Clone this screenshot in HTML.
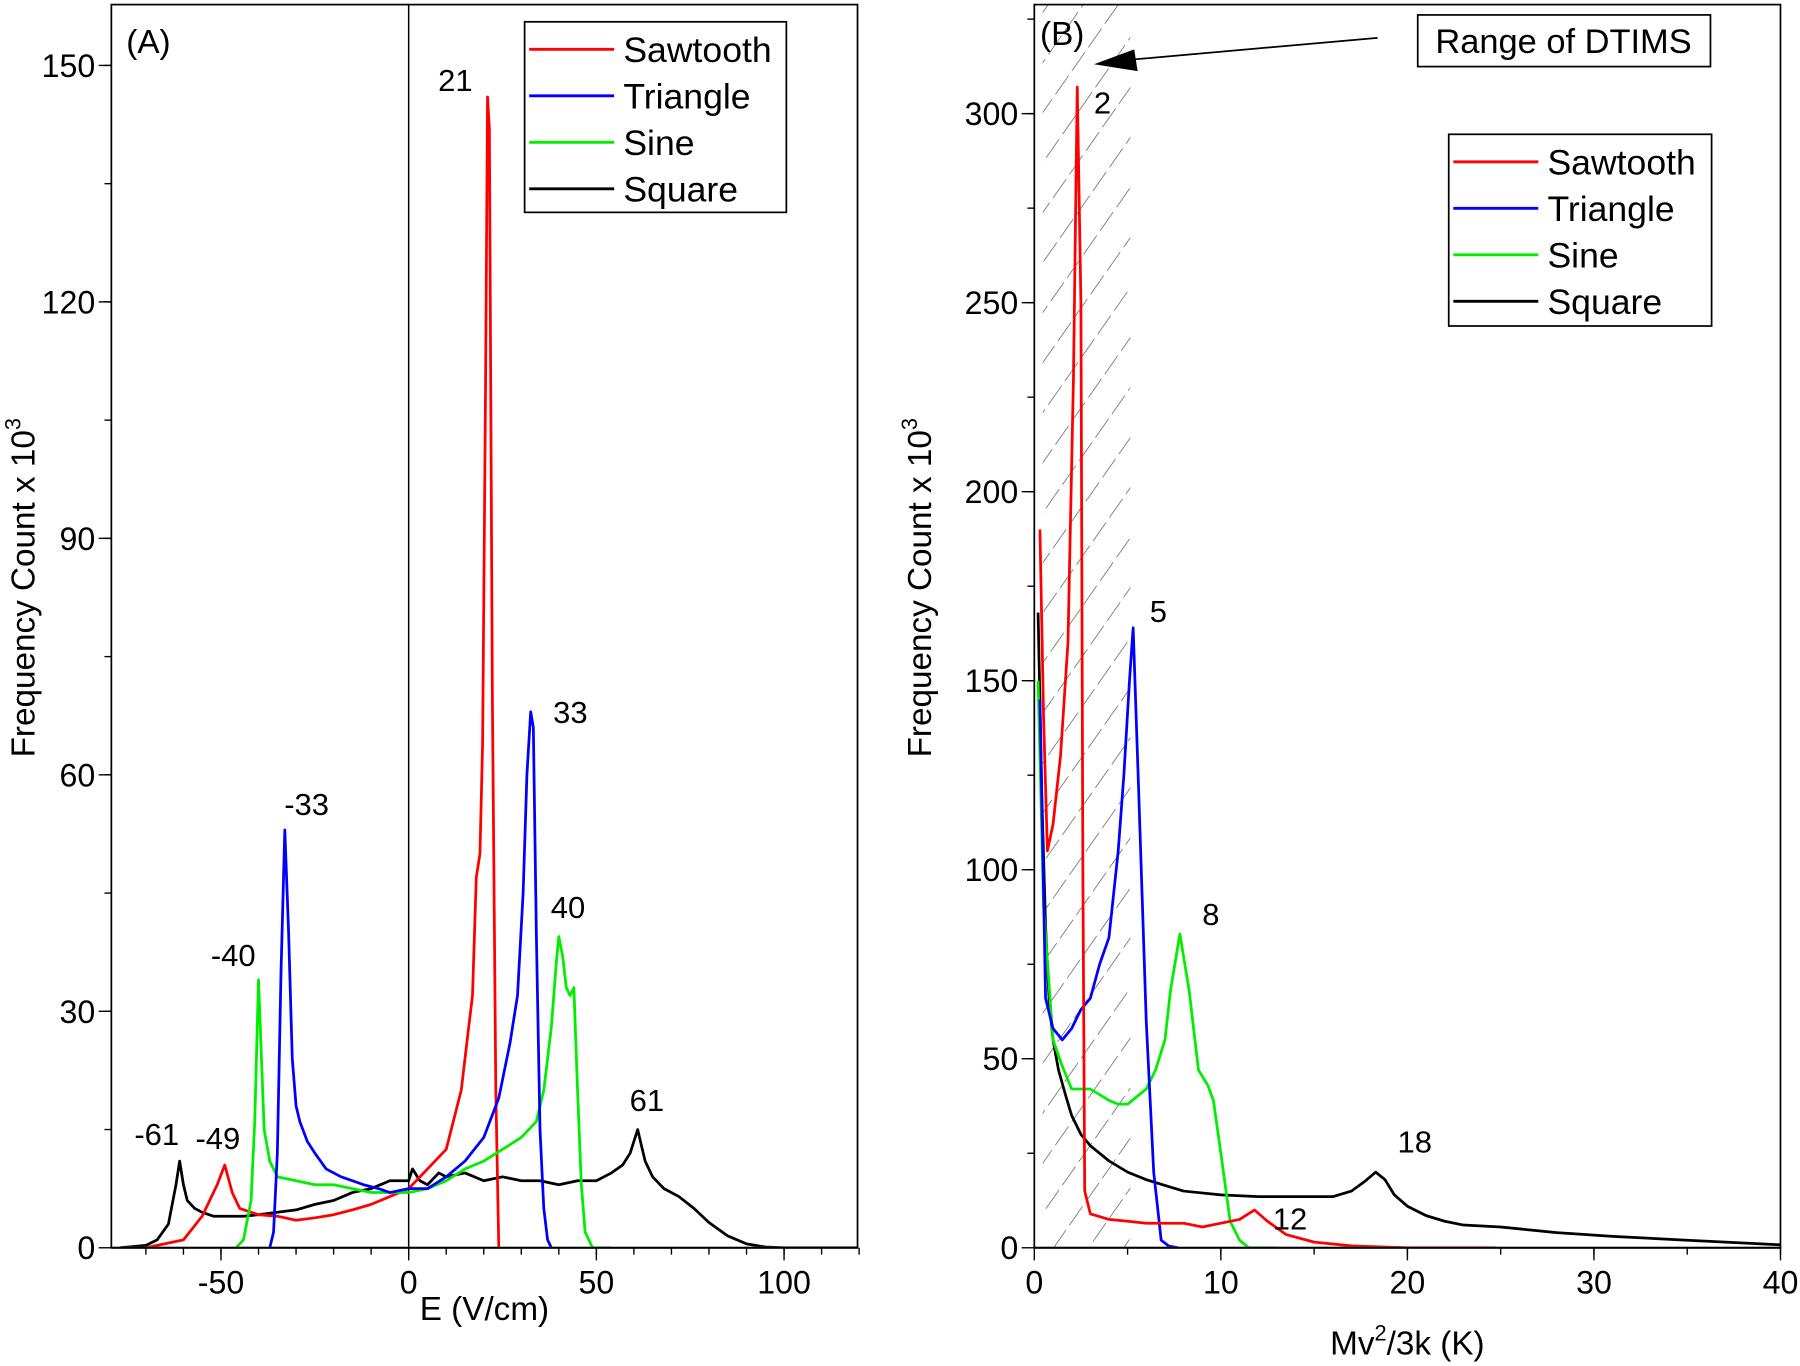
<!DOCTYPE html>
<html><head><meta charset="utf-8"><style>
html,body{margin:0;padding:0;background:#fff;}
svg{display:block;font-family:"Liberation Sans",Arial,sans-serif;}
</style></head><body>
<svg id="fig" width="1800" height="1366" viewBox="0 0 1568 1190" preserveAspectRatio="none">
<defs>
<pattern id="hatch" patternUnits="userSpaceOnUse" width="25" height="25" patternTransform="rotate(35)">
<line x1="0" y1="0" x2="0" y2="25" stroke="#444" stroke-width="1.1" stroke-dasharray="15,5"/>
</pattern>
<clipPath id="clipA"><rect x="97" y="4" width="650" height="1083"/></clipPath>
<clipPath id="clipB"><rect x="901" y="4" width="650" height="1083"/></clipPath>
</defs>
<g id="panelA"></g>
<g id="panelB"></g>
</svg>
<script>
// Panel A data
const aSawX=[-70,-60,-55,-51,-49,-47,-45,-40,-35,-30,-25,-20,-15,-10,-5,0,5,10,14,16,17,18,19,19.7,20.5,21,21.5,22.3,23.2,24];
const aSawY=[0,1,4,8,10.5,7,5,4.2,4,3.5,3.8,4.2,4.8,5.5,6.5,7.5,10,12.5,20,28,32,47,50,64,110,146,142,70,20,0];
const aTriX=[-37,-36,-35,-34,-33,-32,-31,-30,-29,-27,-25,-22,-18,-15,-12,-8,-5,0,5,10,15,20,24,27,29,30.5,31.5,32.5,33.2,34,35,36,37,38];
const aTriY=[0,2,12,35,53,40,24,18,16,13.5,12,10,9,8.5,8,7.5,7,7.5,7.5,9,11,14,19,26,32,45,60,68,66,40,15,5,1,0];
const aSinX=[-46,-44,-42,-41,-40,-39.3,-38.5,-37,-35,-30,-25,-20,-15,-10,-5,0,5,10,15,20,25,30,34,36,38,39.3,40,41,42,43,44,45,46,47,49,54];
const aSinY=[0,1,6,16,34,25,15,11,9,8.5,8,8,7.5,7,7,7,7.5,8.5,10,11,12.5,14,16,20,28,36,39.5,37,33,32,33,20,8,2,0,0];
const aSqX=[-77,-70,-67,-64,-62,-61,-60,-59,-57,-55,-52,-48,-44,-40,-35,-30,-25,-20,-15,-10,-5,0,1,3,5,8,10,15,20,25,30,35,40,45,50,54,57,59,61,62,63,65,68,72,76,80,85,90,95,100,120];
const aSqY=[0,0.3,1,3,8,11,8,6,5,4.5,4,4,4,4.2,4.5,4.8,5.5,6,7,7.5,8.5,8.5,10,8.5,8,9.5,9,9.5,8.5,9,8.5,8.5,8,8.5,8.5,9.5,10.5,12,15,13,11,9,7.5,6.5,5,3.2,1.5,0.5,0.1,0,0];
const aXTicks=[-50,0,50,100];
const aYTicks=[0,30,60,90,120,150];
const aPeakLabels=["21","33","-33","40","-40","-49","-61","61"];
const aPeakX=[21,33,-33,40,-40,-49,-61,61];
const aPeakY=[146,68,53,39.5,34,10.5,11,15];
// Panel B data
const bSawX=[0.3,0.5,0.7,1,1.4,1.8,2.1,2.3,2.5,2.6,2.7,3,4,5,6,7,8,9,10,11,11.8,12.5,13.5,15,17,20,24.7];
const bSawY=[190,140,105,112,130,160,230,307,250,100,15,9,7.5,7,6.5,6.5,6.5,5.5,6.5,7.5,10,7,3.5,1.5,0.5,0,0];
const bTriX=[0.3,0.6,1,1.5,2,2.5,3,3.5,4,4.5,4.8,5.1,5.3,5.6,6,6.4,6.8,7.2,7.7];
const bTriY=[145,66,58,55,58,63,66,75,82,105,125,150,164,120,60,20,2,0.5,0];
const bSinX=[0.2,0.5,1,1.5,2,2.5,3,4,4.5,5,6,6.5,7,7.3,7.8,8.3,8.8,9.3,9.6,10,10.5,11,11.5,13];
const bSinY=[150,90,55,48,42,42,42,39,38,38,42,47,55,68,83,68,47,43,39,25,7,2,0,0];
const bSqX=[0.2,0.4,0.6,0.8,1,1.3,1.7,2,2.5,3,3.5,4,5,6,7,8,10,12,14,16,17,17.7,18.3,18.8,19.3,20,21,22,23,25,28,31,35,40];
const bSqY=[168,120,85,65,55,47,40,35,30,27,25,23,20,18,16.5,15,14,13.5,13.5,13.5,15,17.5,20,18,14,11,8.5,7,6,5.5,4,3,2,0.8];
const bXTicks=[0,10,20,30,40];
const bYTicks=[0,50,100,150,200,250,300];
const bPeakLabels=["2","5","8","12","18"];
const bPeakX=[2.3,5.3,7.8,11.8,18.3];
const bPeakY=[307,164,83,10,20];

const NS="http://www.w3.org/2000/svg";
function el(tag,attrs,parent){const e=document.createElementNS(NS,tag);for(const k in attrs)e.setAttribute(k,attrs[k]);parent.appendChild(e);return e;}
function mk(x0,x1,px0,px1){return v=>px0+(v-x0)/(x1-x0)*(px1-px0);}

const A=document.getElementById('panelA');
const B=document.getElementById('panelB');
const axA={xs:mk(0,100,356,683),ys:mk(0,150,1087,57)};
const axB={xs:mk(0,40,901,1551),ys:mk(0,300,1087,99)};

function drawSeries(g,ax,xs,ys,color,name,clip){
  const d=xs.map((x,i)=>(i?'L':'M')+ax.xs(x).toFixed(1)+','+ax.ys(ys[i]).toFixed(1)).join('');
  const p=el('path',{d:d,fill:'none',stroke:color,'stroke-width':2.4,'stroke-linejoin':'round','clip-path':clip},g);
  
  
}
function frame(g,l,r,t,b){
  const f=el('rect',{x:l,y:t,width:r-l,height:b-t,fill:'none',stroke:'#000','stroke-width':1.5},g);
  
  
}
function ticks(g,ax,xt,xminor,yt,yminor,l,b,pfx){
  xminor.forEach(v=>{el('line',{x1:ax.xs(v),x2:ax.xs(v),y1:b,y2:b+6,stroke:'#000','stroke-width':1.2},g);});
  xt.forEach(v=>{
    el('line',{x1:ax.xs(v),x2:ax.xs(v),y1:b,y2:b+11,stroke:'#000','stroke-width':1.2},g);
    const t=el('text',{x:ax.xs(v),y:b+40,'font-size':28,'text-anchor':'middle'},g);t.textContent=v;
    
    
  });
  yminor.forEach(v=>{el('line',{x1:l-6,x2:l,y1:ax.ys(v),y2:ax.ys(v),stroke:'#000','stroke-width':1.2},g);});
  yt.forEach(v=>{
    el('line',{x1:l-11,x2:l,y1:ax.ys(v),y2:ax.ys(v),stroke:'#000','stroke-width':1.2},g);
    const t=el('text',{x:l-14,y:ax.ys(v)+10,'font-size':28,'text-anchor':'end'},g);t.textContent=v;
    
    
  });
}
function legend(g,x,y,w,h,pfx){
  const r=el('rect',{x:x,y:y,width:w,height:h,fill:'#fff',stroke:'#000','stroke-width':1.5},g);
  
  
  const names=['Sawtooth','Triangle','Sine','Square'],cols=['#ff0000','#0000ff','#00ee00','#000'];
  names.forEach((n,i)=>{
    const yy=y+24+i*40.5;
    el('line',{x1:x+4,x2:x+78,y1:yy,y2:yy,stroke:cols[i],'stroke-width':2.5},g);
    const t=el('text',{x:x+86,y:yy+11,'font-size':31},g);t.textContent=n;
    
    
  });
}
function peakLabels(g,ax,labs,xs,ys,dx,dy,pfx){
  labs.forEach((s,i)=>{
    const t=el('text',{x:ax.xs(xs[i])+dx[i],y:ax.ys(ys[i])+dy[i],'font-size':27,'text-anchor':'middle'},g);
    t.textContent=s;
    
    
  });
}
function range(a,b,s){const o=[];for(let v=a;v<=b+1e-9;v+=s)o.push(v);return o;}

// Panel A
el('line',{x1:axA.xs(0),x2:axA.xs(0),y1:4,y2:1087,stroke:'#000','stroke-width':1.3},A);
drawSeries(A,axA,aSqX,aSqY,'#000','square-series-a','url(#clipA)');
drawSeries(A,axA,aSawX,aSawY,'#ff0000','sawtooth-series-a','url(#clipA)');
drawSeries(A,axA,aSinX,aSinY,'#00ee00','sine-series-a','url(#clipA)');
drawSeries(A,axA,aTriX,aTriY,'#0000ff','triangle-series-a','url(#clipA)');
el('line',{x1:97,x2:747,y1:1087,y2:1087,stroke:'#555','stroke-width':2},A);
frame(A,97,747,4,1087);
ticks(A,axA,aXTicks,range(-70,120,10),aYTicks,range(15,150,15),97,1087,'a');
legend(A,457,19,228,166,'a');
peakLabels(A,axA,aPeakLabels,aPeakX,aPeakY,[-28,33,19,8,-22,-6,-20,8],[-5,10,-13,-16,-12,-14,-14,-16],'a');
let t=el('text',{x:110,y:46,'font-size':29},A);t.textContent='(A)';


t=el('text',{x:422,y:1150,'font-size':29,'text-anchor':'middle'},A);t.textContent='E (V/cm)';


t=el('text',{x:0,y:0,'font-size':29,'text-anchor':'middle',transform:'translate(30,512) rotate(-90)'},A);
t.innerHTML='Frequency Count x 10<tspan dy="-12" font-size="19">3</tspan>';



// Panel B
const hr=el('rect',{x:axB.xs(0.45),y:4,width:axB.xs(5.15)-axB.xs(0.45),height:1083,fill:'url(#hatch)'},B);


drawSeries(B,axB,bSqX,bSqY,'#000','square-series-b','url(#clipB)');
drawSeries(B,axB,bSinX,bSinY,'#00ee00','sine-series-b','url(#clipB)');
drawSeries(B,axB,bTriX,bTriY,'#0000ff','triangle-series-b','url(#clipB)');
drawSeries(B,axB,bSawX,bSawY,'#ff0000','sawtooth-series-b','url(#clipB)');
el('line',{x1:901,x2:1551,y1:1087,y2:1087,stroke:'#555','stroke-width':2},B);
frame(B,901,1551,4,1087);
ticks(B,axB,bXTicks,range(5,40,5),bYTicks,range(25,325,25),901,1087,'b');
legend(B,1262,117,229,167,'b');
peakLabels(B,axB,bPeakLabels,bPeakX,bPeakY,[22,22,27,31,34],[23,-5,-8,17,-17],'b');
t=el('text',{x:906,y:39,'font-size':29},B);t.textContent='(B)';


const box=el('rect',{x:1235,y:13,width:255,height:45,fill:'#fff',stroke:'#000','stroke-width':1.5},B);


t=el('text',{x:1362,y:46,'font-size':30,'text-anchor':'middle'},B);t.textContent='Range of DTIMS';


const ar=el('line',{x1:1200,y1:33,x2:985,y2:52,stroke:'#000','stroke-width':1.5},B);


el('polygon',{points:'953,56 988,43 991,62',fill:'#000'},B);
t=el('text',{x:1226,y:1180,'font-size':29,'text-anchor':'middle'},B);
t.innerHTML='Mv<tspan dy="-12" font-size="19">2</tspan><tspan dy="12">/3k (K)</tspan>';


t=el('text',{x:0,y:0,'font-size':29,'text-anchor':'middle',transform:'translate(811,512) rotate(-90)'},B);
t.innerHTML='Frequency Count x 10<tspan dy="-12" font-size="19">3</tspan>';


</script>
</body></html>
